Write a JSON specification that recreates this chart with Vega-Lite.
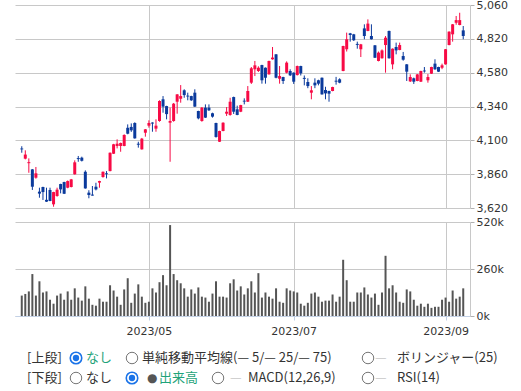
{
 "$schema": "https://vega.github.io/schema/vega-lite/v6.json",
 "padding": {"left": 15, "top": -1, "right": 0, "bottom": 0},
 "bounds": "flush",
 "spacing": 14,
 "config": {
  "view": {"stroke": null},
  "font": "DejaVu Sans",
  "axis": {"gridColor": "#c8c8c8", "gridWidth": 1, "labelFont": "DejaVu Sans", "labelFontSize": 11, "labelColor": "#333333", "title": null}
 },
 "datasets": {
  "px": [
{"i":0,"o":4042,"h":4058,"l":4012,"c":4036,"v":113000},
{"i":1,"o":3970,"h":4029,"l":3965,"c":3999,"v":122000},
{"i":2,"o":3938,"h":3972,"l":3870,"c":3945,"v":136000},
{"i":3,"o":3894,"h":3896,"l":3748,"c":3771,"v":232000},
{"i":4,"o":3835,"h":3911,"l":3828,"c":3866,"v":113000},
{"i":5,"o":3736,"h":3764,"l":3693,"c":3722,"v":192000},
{"i":6,"o":3769,"h":3771,"l":3677,"c":3733,"v":130000},
{"i":7,"o":3678,"h":3764,"l":3663,"c":3665,"v":136000},
{"i":8,"o":3748,"h":3764,"l":3668,"c":3670,"v":90000},
{"i":9,"o":3646,"h":3735,"l":3629,"c":3733,"v":68000},
{"i":10,"o":3705,"h":3764,"l":3700,"c":3750,"v":113000},
{"i":11,"o":3790,"h":3792,"l":3724,"c":3752,"v":124000},
{"i":12,"o":3804,"h":3806,"l":3719,"c":3721,"v":90000},
{"i":13,"o":3764,"h":3815,"l":3760,"c":3811,"v":136000},
{"i":14,"o":3769,"h":3826,"l":3766,"c":3823,"v":90000},
{"i":15,"o":3859,"h":3958,"l":3857,"c":3944,"v":153000},
{"i":16,"o":3974,"h":3989,"l":3948,"c":3967,"v":102000},
{"i":17,"o":3977,"h":3984,"l":3950,"c":3955,"v":85000},
{"i":18,"o":3877,"h":3887,"l":3757,"c":3759,"v":164000},
{"i":19,"o":3729,"h":3746,"l":3689,"c":3712,"v":96000},
{"i":20,"o":3715,"h":3776,"l":3708,"c":3708,"v":62000},
{"i":21,"o":3771,"h":3799,"l":3745,"c":3752,"v":57000},
{"i":22,"o":3800,"h":3813,"l":3764,"c":3811,"v":96000},
{"i":23,"o":3840,"h":3879,"l":3835,"c":3877,"v":79000},
{"i":24,"o":3866,"h":3882,"l":3830,"c":3860,"v":79000},
{"i":25,"o":3882,"h":4014,"l":3880,"c":4012,"v":170000},
{"i":26,"o":4005,"h":4075,"l":4003,"c":4072,"v":141000},
{"i":27,"o":4060,"h":4107,"l":4043,"c":4076,"v":107000},
{"i":28,"o":4060,"h":4084,"l":4019,"c":4081,"v":62000},
{"i":29,"o":4060,"h":4143,"l":4058,"c":4138,"v":147000},
{"i":30,"o":4189,"h":4213,"l":4143,"c":4147,"v":209000},
{"i":31,"o":4195,"h":4220,"l":4160,"c":4171,"v":73000},
{"i":32,"o":4223,"h":4228,"l":4112,"c":4114,"v":124000},
{"i":33,"o":4076,"h":4090,"l":4048,"c":4069,"v":175000},
{"i":34,"o":4036,"h":4117,"l":4034,"c":4112,"v":107000},
{"i":35,"o":4154,"h":4180,"l":4126,"c":4178,"v":73000},
{"i":36,"o":4204,"h":4242,"l":4190,"c":4223,"v":79000},
{"i":37,"o":4226,"h":4228,"l":4161,"c":4219,"v":153000},
{"i":38,"o":4183,"h":4249,"l":4161,"c":4204,"v":130000},
{"i":39,"o":4237,"h":4384,"l":4232,"c":4379,"v":187000},
{"i":40,"o":4391,"h":4414,"l":4296,"c":4339,"v":226000},
{"i":41,"o":4343,"h":4345,"l":4249,"c":4286,"v":170000},
{"i":42,"o":4225,"h":4332,"l":3948,"c":4237,"v":503000},
{"i":43,"o":4237,"h":4365,"l":4232,"c":4360,"v":232000},
{"i":44,"o":4374,"h":4428,"l":4289,"c":4426,"v":198000},
{"i":45,"o":4395,"h":4492,"l":4367,"c":4414,"v":181000},
{"i":46,"o":4455,"h":4462,"l":4402,"c":4421,"v":153000},
{"i":47,"o":4417,"h":4438,"l":4384,"c":4411,"v":107000},
{"i":48,"o":4414,"h":4416,"l":4380,"c":4384,"v":147000},
{"i":49,"o":4438,"h":4462,"l":4337,"c":4339,"v":124000},
{"i":50,"o":4308,"h":4310,"l":4249,"c":4256,"v":158000},
{"i":51,"o":4237,"h":4336,"l":4232,"c":4332,"v":107000},
{"i":52,"o":4332,"h":4355,"l":4259,"c":4261,"v":102000},
{"i":53,"o":4332,"h":4355,"l":4308,"c":4313,"v":79000},
{"i":54,"o":4292,"h":4296,"l":4261,"c":4268,"v":124000},
{"i":55,"o":4223,"h":4225,"l":4119,"c":4124,"v":192000},
{"i":56,"o":4090,"h":4168,"l":4088,"c":4166,"v":107000},
{"i":57,"o":4166,"h":4228,"l":4164,"c":4225,"v":107000},
{"i":58,"o":4289,"h":4336,"l":4273,"c":4303,"v":102000},
{"i":59,"o":4280,"h":4402,"l":4275,"c":4374,"v":181000},
{"i":60,"o":4407,"h":4410,"l":4287,"c":4303,"v":203000},
{"i":61,"o":4320,"h":4346,"l":4278,"c":4280,"v":141000},
{"i":62,"o":4303,"h":4352,"l":4300,"c":4350,"v":164000},
{"i":63,"o":4381,"h":4398,"l":4355,"c":4375,"v":119000},
{"i":64,"o":4374,"h":4485,"l":4372,"c":4450,"v":153000},
{"i":65,"o":4509,"h":4620,"l":4500,"c":4611,"v":192000},
{"i":66,"o":4604,"h":4663,"l":4556,"c":4632,"v":130000},
{"i":67,"o":4592,"h":4625,"l":4585,"c":4615,"v":237000},
{"i":68,"o":4634,"h":4636,"l":4502,"c":4526,"v":102000},
{"i":69,"o":4615,"h":4617,"l":4502,"c":4544,"v":130000},
{"i":70,"o":4568,"h":4665,"l":4566,"c":4663,"v":107000},
{"i":71,"o":4675,"h":4762,"l":4672,"c":4687,"v":96000},
{"i":72,"o":4710,"h":4712,"l":4540,"c":4544,"v":153000},
{"i":73,"o":4537,"h":4627,"l":4502,"c":4556,"v":79000},
{"i":74,"o":4549,"h":4551,"l":4500,"c":4521,"v":73000},
{"i":75,"o":4580,"h":4660,"l":4575,"c":4651,"v":153000},
{"i":76,"o":4592,"h":4604,"l":4556,"c":4561,"v":141000},
{"i":77,"o":4580,"h":4582,"l":4500,"c":4516,"v":136000},
{"i":78,"o":4563,"h":4630,"l":4560,"c":4627,"v":130000},
{"i":79,"o":4627,"h":4629,"l":4560,"c":4575,"v":68000},
{"i":80,"o":4543,"h":4560,"l":4490,"c":4536,"v":57000},
{"i":81,"o":4514,"h":4540,"l":4470,"c":4485,"v":73000},
{"i":82,"o":4438,"h":4485,"l":4391,"c":4455,"v":124000},
{"i":83,"o":4509,"h":4540,"l":4470,"c":4490,"v":130000},
{"i":84,"o":4526,"h":4530,"l":4490,"c":4502,"v":107000},
{"i":85,"o":4544,"h":4546,"l":4424,"c":4426,"v":79000},
{"i":86,"o":4457,"h":4480,"l":4391,"c":4433,"v":85000},
{"i":87,"o":4450,"h":4452,"l":4374,"c":4431,"v":85000},
{"i":88,"o":4450,"h":4480,"l":4448,"c":4478,"v":119000},
{"i":89,"o":4523,"h":4550,"l":4495,"c":4516,"v":79000},
{"i":90,"o":4533,"h":4540,"l":4505,"c":4509,"v":107000},
{"i":91,"o":4592,"h":4771,"l":4590,"c":4769,"v":311000},
{"i":92,"o":4746,"h":4864,"l":4730,"c":4817,"v":198000},
{"i":93,"o":4859,"h":4862,"l":4800,"c":4847,"v":79000},
{"i":94,"o":4852,"h":4855,"l":4805,"c":4810,"v":79000},
{"i":95,"o":4784,"h":4800,"l":4750,"c":4777,"v":130000},
{"i":96,"o":4746,"h":4784,"l":4691,"c":4781,"v":130000},
{"i":97,"o":4894,"h":4923,"l":4817,"c":4840,"v":158000},
{"i":98,"o":4876,"h":4958,"l":4874,"c":4928,"v":119000},
{"i":99,"o":4840,"h":4923,"l":4815,"c":4817,"v":102000},
{"i":100,"o":4774,"h":4776,"l":4684,"c":4686,"v":124000},
{"i":101,"o":4663,"h":4730,"l":4660,"c":4722,"v":62000},
{"i":102,"o":4682,"h":4745,"l":4680,"c":4738,"v":130000},
{"i":103,"o":4776,"h":4840,"l":4580,"c":4828,"v":333000},
{"i":104,"o":4876,"h":4878,"l":4680,"c":4682,"v":153000},
{"i":105,"o":4639,"h":4752,"l":4604,"c":4750,"v":170000},
{"i":106,"o":4762,"h":4793,"l":4710,"c":4738,"v":130000},
{"i":107,"o":4741,"h":4793,"l":4739,"c":4776,"v":79000},
{"i":108,"o":4698,"h":4727,"l":4665,"c":4672,"v":73000},
{"i":109,"o":4639,"h":4641,"l":4521,"c":4587,"v":147000},
{"i":110,"o":4518,"h":4568,"l":4514,"c":4549,"v":136000},
{"i":111,"o":4540,"h":4545,"l":4500,"c":4516,"v":90000},
{"i":112,"o":4521,"h":4570,"l":4519,"c":4568,"v":57000},
{"i":113,"o":4516,"h":4594,"l":4514,"c":4592,"v":68000},
{"i":114,"o":4595,"h":4620,"l":4580,"c":4589,"v":51000},
{"i":115,"o":4526,"h":4570,"l":4509,"c":4549,"v":68000},
{"i":116,"o":4573,"h":4622,"l":4571,"c":4620,"v":45000},
{"i":117,"o":4644,"h":4675,"l":4600,"c":4604,"v":51000},
{"i":118,"o":4620,"h":4622,"l":4585,"c":4587,"v":51000},
{"i":119,"o":4615,"h":4644,"l":4605,"c":4632,"v":90000},
{"i":120,"o":4639,"h":4748,"l":4637,"c":4746,"v":102000},
{"i":121,"o":4776,"h":4873,"l":4774,"c":4871,"v":79000},
{"i":122,"o":4852,"h":4925,"l":4800,"c":4923,"v":141000},
{"i":123,"o":4934,"h":4982,"l":4920,"c":4953,"v":96000},
{"i":124,"o":4918,"h":5005,"l":4916,"c":4953,"v":107000},
{"i":125,"o":4880,"h":4911,"l":4817,"c":4840,"v":153000}
  ],
  "ui": [
   {"r":"上段","s":0,"k":"head","t":"[上段]"},
   {"r":"上段","s":1,"k":"radio","on":true},
   {"r":"上段","s":2,"k":"on","t":"なし"},
   {"r":"上段","s":3,"k":"radio","on":false},
   {"r":"上段","s":4,"k":"off","t":"単純移動平均線(— 5/— 25/— 75)"},
   {"r":"上段","s":10,"k":"radio","on":false},
   {"r":"上段","s":11,"k":"line","t":"—"},
   {"r":"上段","s":12,"k":"off","t":"ボリンジャー(25)"},
   {"r":"下段","s":0,"k":"head","t":"[下段]"},
   {"r":"下段","s":1,"k":"radio","on":false},
   {"r":"下段","s":2,"k":"off","t":"なし"},
   {"r":"下段","s":3,"k":"radio","on":true},
   {"r":"下段","s":5,"k":"dot","t":"●"},
   {"r":"下段","s":6,"k":"on","t":"出来高"},
   {"r":"下段","s":7,"k":"radio","on":false},
   {"r":"下段","s":8,"k":"line","t":"—"},
   {"r":"下段","s":9,"k":"off","t":"MACD(12,26,9)"},
   {"r":"下段","s":10,"k":"radio","on":false},
   {"r":"下段","s":11,"k":"line","t":"—"},
   {"r":"下段","s":12,"k":"off","t":"RSI(14)"}
  ]
 },
 "vconcat": [
  {
   "width": 455,
   "height": 203,
   "data": {"name": "px"},
   "encoding": {
    "x": {"field": "i", "type": "quantitative", "scale": {"domain": [-0.5, 125.5], "nice": false, "zero": false},
          "axis": {"values": [36, 77, 120], "labels": false, "ticks": false, "domain": false, "grid": true}},
    "color": {"condition": {"test": "datum.c >= datum.o", "value": "#f70a45"}, "value": "#0b3a9c"}
   },
   "layer": [
    {"mark": {"type": "rule", "strokeWidth": 1},
     "encoding": {
      "y": {"field": "l", "type": "quantitative",
            "scale": {"domain": [3620, 5060], "nice": false, "zero": false},
            "axis": {"orient": "right", "values": [3620, 3860, 4100, 4340, 4580, 4820, 5060], "format": ",d", "grid": true,
                     "domain": true, "domainColor": "#c8c8c8", "tickColor": "#b0b0b0", "tickSize": 4, "labelPadding": 2}},
      "y2": {"field": "h"}
     }},
    {"mark": {"type": "bar", "size": 3},
     "encoding": {
      "y": {"field": "o", "type": "quantitative",
            "axis": {"orient": "right", "values": [3620, 3860, 4100, 4340, 4580, 4820, 5060], "format": ",d", "grid": true,
                     "domain": true, "domainColor": "#c8c8c8", "tickColor": "#b0b0b0", "tickSize": 4, "labelPadding": 2}},
      "y2": {"field": "c"}
     }}
   ]
  },
  {
   "width": 455,
   "height": 94,
   "data": {"name": "px"},
   "mark": {"type": "bar", "size": 2, "color": "#555555"},
   "encoding": {
    "x": {"field": "i", "type": "quantitative", "scale": {"domain": [-0.5, 125.5], "nice": false, "zero": false},
          "axis": {"values": [36, 77, 120], "grid": true, "domainColor": "#c3d1e6", "tickColor": "#c3d1e6", "tickSize": 4, "labelPadding": 5,
                   "labelExpr": "datum.value == 36 ? '2023/05' : datum.value == 77 ? '2023/07' : '2023/09'"}},
    "y": {"field": "v", "type": "quantitative", "scale": {"domain": [0, 520000], "nice": false},
          "axis": {"orient": "right", "values": [0, 260000, 520000], "format": "~s", "grid": true, "domain": true,
                   "domainColor": "#c8c8c8", "tickColor": "#b0b0b0", "tickSize": 4, "labelPadding": 2}}
   }
  },
  {
   "width": 455,
   "height": 56,
   "data": {"name": "ui"},
   "encoding": {
    "x": {"field": "s", "type": "quantitative",
          "scale": {"domain": [0, 1, 2, 3, 4, 5, 6, 7, 8, 9, 10, 11, 12], "range": [12, 61, 71, 117, 127, 132, 144, 203, 215, 233, 353, 360, 382]},
          "axis": null},
    "y": {"field": "r", "type": "nominal", "scale": {"type": "point", "domain": ["上段", "下段"], "range": [28, 48], "padding": 0}, "axis": null}
   },
   "layer": [
    {"transform": [{"filter": "datum.k == 'radio'"}],
     "mark": {"type": "point", "shape": "circle", "filled": false, "fill": "white", "size": 132, "opacity": 1},
     "encoding": {"stroke": {"condition": {"test": "datum.on", "value": "#1a73e8"}, "value": "#767676"},
                  "strokeWidth": {"condition": {"test": "datum.on", "value": 1.6}, "value": 1}}},
    {"transform": [{"filter": "datum.k == 'radio' && datum.on"}],
     "mark": {"type": "point", "shape": "circle", "filled": true, "size": 40, "color": "#1a73e8", "opacity": 1}},
    {"transform": [{"filter": "datum.k == 'dot'"}],
     "mark": {"type": "text", "align": "left", "baseline": "middle", "font": "DejaVu Sans", "fontSize": 12, "color": "#555555"},
     "encoding": {"text": {"field": "t"}}},
    {"transform": [{"filter": "datum.k != 'radio' && datum.k != 'dot'"}],
     "mark": {"type": "text", "align": "left", "baseline": "middle", "font": "Noto Sans CJK JP", "fontSize": 13},
     "encoding": {"text": {"field": "t"},
                  "color": {"field": "k", "type": "nominal", "legend": null,
                            "scale": {"domain": ["head", "on", "off", "line"], "range": ["#333333", "#1fa37a", "#333333", "#c8c8c8"]}}}}
   ]
  }
 ]
}
